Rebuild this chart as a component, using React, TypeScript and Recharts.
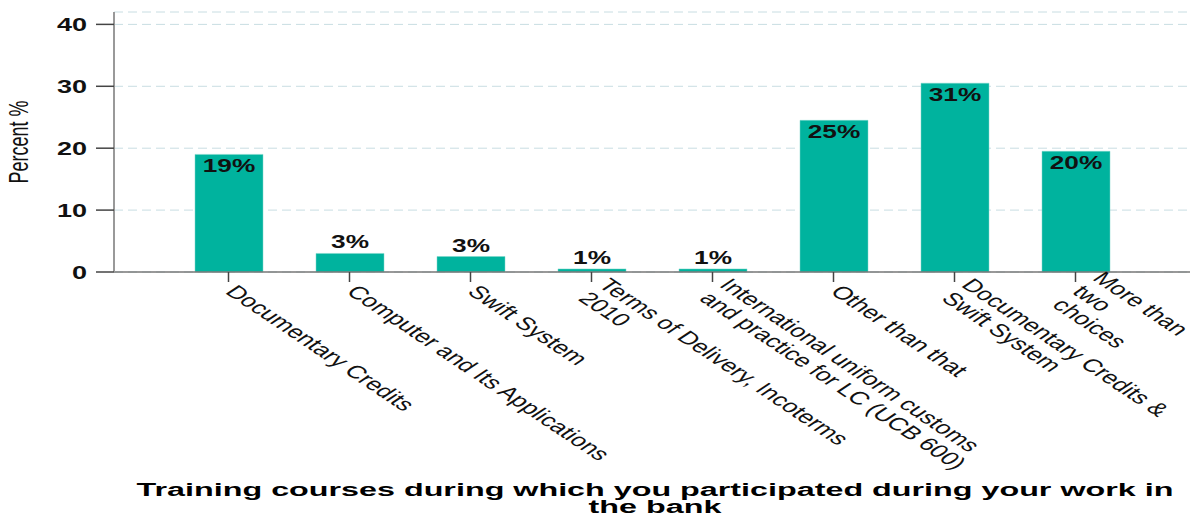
import React from "react";
import { BarChart, Bar, XAxis, YAxis, CartesianGrid, LabelList } from "recharts";

const categories = [
  "Documentary Credits",
  "Computer and Its Applications",
  "Swift System",
  "Terms of Delivery, Incoterms\n2010",
  "International uniform customs\nand practice for LC (UCB 600)",
  "Other than that",
  "Documentary Credits &\nSwift System",
  "More than\ntwo\nchoices",
];
const values = [19, 3, 2.5, 0.5, 0.5, 24.5, 30.5, 19.5];
const valueLabels = ["19%", "3%", "3%", "1%", "1%", "25%", "31%", "20%"];
const yTicks = [0, 10, 20, 30, 40];
const yLabel = "Percent %";
const titleLines = [
  "Training courses during which you participated during your work in",
  "the bank",
];

const data = categories.map((c, i) => ({ name: c, value: values[i], label: valueLabels[i] }));

const FONT = "'Liberation Sans', Arial, sans-serif";
const SX = 1.5;

const XTick = (props: any) => {
  const { x, y, payload } = props;
  const lines = String(payload.value).split("\n");
  const n = lines.length;
  const L = 19;
  return (
    <g transform={`translate(${x},${y + 3}) scale(${SX},1) rotate(45)`}>
      <text fontSize={18} fill="#111" fontFamily={FONT}>
        {lines.map((ln, i) => (
          <tspan key={i} x={2} y={(i - (n - 1) / 2) * L + 6}>
            {ln}
          </tspan>
        ))}
      </text>
    </g>
  );
};

const YTick = (props: any) => {
  const { x, y, payload } = props;
  return (
    <g transform={`translate(${x},${y}) scale(${SX},1)`}>
      <text textAnchor="end" dy={6.5} fontSize={18} fontWeight="bold" fill="#111" fontFamily={FONT}>
        {payload.value}
      </text>
    </g>
  );
};

const ValueLabel = (props: any) => {
  const { x, y, width, index } = props;
  const v = values[index];
  const cx = x + width / 2;
  const by = v >= 5 ? y + 18 : y - 5;
  return (
    <g transform={`translate(${cx},${by}) scale(${SX},1)`}>
      <text textAnchor="middle" fontSize={17.5} fontWeight="bold" fill="#111" fontFamily={FONT}>
        {valueLabels[index]}
      </text>
    </g>
  );
};

const YLabel = (props: any) => {
  const vb = props.viewBox || { x: 0, y: 12, width: 114, height: 260 };
  const cx = vb.x + 28;
  const cy = vb.y + vb.height / 2;
  return (
    <g transform={`translate(${cx},${cy}) scale(${SX},1) rotate(-90)`}>
      <text textAnchor="middle" fontSize={18} fill="#111" fontFamily={FONT}>
        {yLabel}
      </text>
    </g>
  );
};

const Title = (props: any) => {
  const vb = props.viewBox || { x: 114, y: 272, width: 1076, height: 247 };
  const cx = vb.x + vb.width / 2 + 3;
  return (
    <g>
      {titleLines.map((ln, i) => (
        <g key={i} transform={`translate(${cx},${vb.y + 224 + i * 17}) scale(1.7,1)`}>
          <text textAnchor="middle" fontSize={19} fontWeight="bold" fill="#000" fontFamily={FONT}>
            {ln}
          </text>
        </g>
      ))}
    </g>
  );
};

export default function App() {
  return (
    <div style={{ width: 1193, height: 519, background: "#fff" }}>
      <style>{`body{margin:0;}`}</style>
      <BarChart
        width={1193}
        height={519}
        data={data}
        margin={{ top: 12, right: 3, left: 0, bottom: 0 }}
        barSize={68}
      >
        <CartesianGrid vertical={false} stroke="#c8dde2" strokeDasharray="9 5" />
        <XAxis
          dataKey="name"
          interval={0}
          height={247}
          padding={{ left: 54, right: 54 }}
          tick={<XTick />}
          tickSize={10}
          tickLine={{ stroke: "#444", strokeWidth: 1.5 }}
          axisLine={{ stroke: "#777", strokeWidth: 1.5 }}
          label={{ content: <Title /> } as any}
        />
        <YAxis
          domain={[0, 42]}
          ticks={yTicks}
          width={114}
          tick={<YTick />}
          tickSize={18}
          tickMargin={9}
          tickLine={{ stroke: "#444", strokeWidth: 1.5 }}
          axisLine={{ stroke: "#999", strokeWidth: 2 }}
          label={{ content: <YLabel /> } as any}
        />
        <Bar dataKey="value" fill="#00b39e" stroke="#7fd6cb" strokeWidth={0.5} isAnimationActive={false}>
          <LabelList dataKey="label" content={<ValueLabel />} />
        </Bar>
      </BarChart>
    </div>
  );
}
